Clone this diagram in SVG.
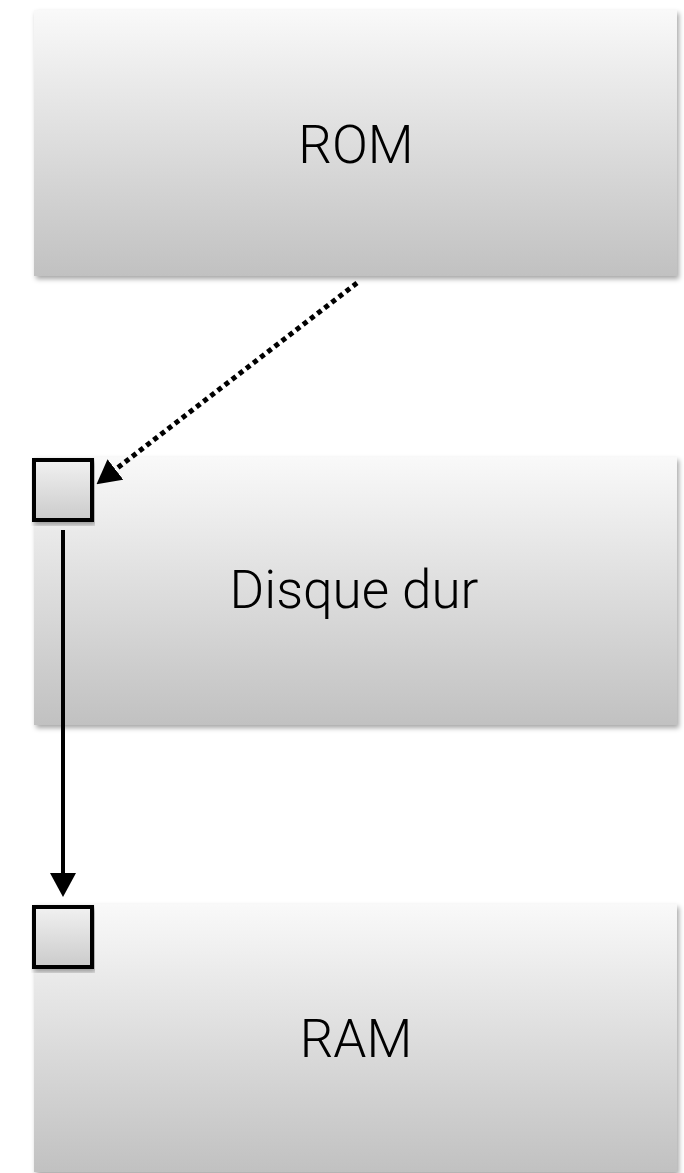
<svg xmlns="http://www.w3.org/2000/svg" width="684" height="1173" viewBox="0 0 684 1173">
  <defs>
    <linearGradient id="boxGrad" x1="0" y1="0" x2="0" y2="1">
      <stop offset="0" stop-color="#f9f9f9"/>
      <stop offset="1" stop-color="#c1c1c1"/>
    </linearGradient>
    <linearGradient id="portGrad" x1="0" y1="0" x2="0" y2="1">
      <stop offset="0" stop-color="#f1f1f1"/>
      <stop offset="1" stop-color="#cbcbcb"/>
    </linearGradient>
    <filter id="shadow" x="-5%" y="-5%" width="110%" height="115%">
      <feDropShadow dx="2" dy="3" stdDeviation="2.5" flood-color="#000" flood-opacity="0.35"/>
    </filter>
    <marker id="arrow" markerUnits="userSpaceOnUse" markerWidth="24" markerHeight="26" refX="0" refY="13" orient="auto" viewBox="0 0 24 26">
      <path d="M0,0 L24,13 L0,26 z" fill="#000"/>
    </marker>
    <style>
      .box { fill: url(#boxGrad); filter: url(#shadow); }
      .port { fill: url(#portGrad); stroke: #000; stroke-width: 4; filter: url(#shadow); }
      .label { font-family: Roboto, "Liberation Sans", sans-serif; font-weight: 300; font-size: 53px; fill: #000; text-anchor: middle; }
      .conn { fill: none; stroke: #000; stroke-width: 4; }
      .dotted { stroke-dasharray: 5 4; stroke-width: 5; }
    </style>
  </defs>

  <g id="node-rom">
    <rect class="box" x="34" y="10" width="643" height="266"/>
    <text class="label" x="356" y="163">ROM</text>
  </g>

  <g id="node-disque">
    <rect class="box" x="34" y="457" width="643" height="268"/>
    <text class="label" x="354" y="608">Disque dur</text>
    <rect id="port-disque" class="port" x="34" y="460" width="58" height="60"/>
  </g>

  <g id="node-ram">
    <rect class="box" x="34" y="904" width="643" height="268"/>
    <text class="label" x="356" y="1057">RAM</text>
    <rect id="port-ram" class="port" x="34" y="907" width="58" height="60"/>
  </g>

  <g id="connectors">
    <line class="conn dotted" x1="357" y1="283" x2="115.5" y2="469.5" marker-end="url(#arrow)"/>
    <line class="conn" x1="63" y1="530" x2="63" y2="873" marker-end="url(#arrow)"/>
  </g>
</svg>
